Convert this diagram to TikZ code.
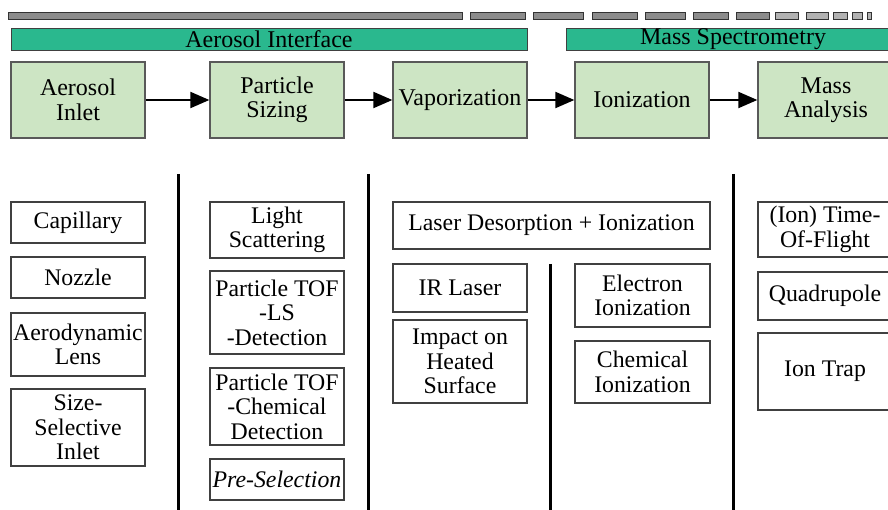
\documentclass[tikz,border=0pt]{standalone}
\usepackage{fontspec}
\setmainfont{Liberation Serif}
\usetikzlibrary{arrows.meta}

\definecolor{bandgreen}{RGB}{42,184,142}
\definecolor{procgreen}{RGB}{205,229,196}
\definecolor{bardark}{RGB}{140,140,140}
\definecolor{barlight}{RGB}{178,178,178}

% box with corners (x1,y1)-(x2,y2)
\newcommand{\blk}[7]{%
  \node[#6, minimum width={#4-#2}, minimum height={#5-#3}] (#1)
    at ({(#2+#4)/2},{(#3+#5)/2}) {#7};}

\tikzset{
  band/.style={fill=bandgreen, draw=black!75, line width=0.9pt, inner sep=0pt,
    font=\fontsize{24}{24}\selectfont},
  proc/.style={fill=procgreen, draw=black!65, line width=1.3pt, inner sep=0pt,
    align=center, font=\fontsize{24}{24.5}\selectfont},
  item/.style={fill=white, draw=black!75, line width=1.3pt, inner sep=0pt,
    align=center, font=\fontsize{23.8}{24.5}\selectfont},
  arr/.style={line width=2pt, -{Triangle[length=19pt,width=16pt]}},
  divider/.style={line width=3pt, black},
  seg/.style={draw=black!80, line width=0.9pt}
}

\begin{document}
\begin{tikzpicture}[x=1pt,y=-1pt]
\useasboundingbox (0,0) rectangle (888,510);

% segmented progress bar along the top
\foreach \a/\b/\c in {8/462/bardark, 470/525/bardark, 533/583/bardark,
    592/637/bardark, 645/685/bardark, 693/728/bardark, 736/769/bardark,
    775/798/barlight, 806/828/barlight, 833/847/barlight, 852/862/barlight,
    867/871/barlight}
  \draw[seg, fill=\c] (\a,12.5) rectangle (\b,19);

% section bands
\blk{aerosolband}{11}{28}{527}{50}{band}{Aerosol Interface}
\blk{massband}{566}{28}{900}{50}{band}{Mass Spectrometry}

% process chain
\blk{inlet}{11}{62}{145}{138}{proc}{Aerosol\\Inlet}
\blk{sizing}{210}{62}{344}{138}{proc}{Particle\\Sizing}
\blk{vapor}{393}{62}{527}{138}{proc}{Vaporization}
\blk{ioniz}{575}{62}{709}{138}{proc}{Ionization}
\blk{massan}{758}{62}{894}{138}{proc}{Mass\\Analysis}

\draw[arr] (inlet) -- (sizing);
\draw[arr] (sizing) -- (vapor);
\draw[arr] (vapor) -- (ioniz);
\draw[arr] (ioniz) -- (massan);

% column dividers
\draw[divider] (178,174) -- (178,510);
\draw[divider] (368,174) -- (368,510);
\draw[divider] (733,174) -- (733,510);
\draw[divider] (550,264) -- (550,510);

% inlet options
\blk{capillary}{11}{202}{145}{243}{item}{Capillary}
\blk{nozzle}{11}{257}{145}{298}{item}{Nozzle}
\blk{lens}{11}{313}{145}{376}{item}{Aerodynamic\\Lens}
\blk{sizesel}{11}{389}{145}{466}{item}{Size-\\Selective\\Inlet}

% sizing options
\blk{lightsc}{210}{202}{344}{258}{item}{Light\\Scattering}
\blk{toflsd}{210}{271}{344}{354}{item}{Particle TOF\\-LS\\-Detection}
\blk{tofchem}{210}{368}{344}{445}{item}{Particle TOF\\-Chemical\\Detection}
\blk{presel}{210}{459}{344}{500}{item}{\itshape Pre-Selection}

% vaporization / ionization options
\blk{ldi}{393}{202}{710}{249}{item}{Laser Desorption + Ionization}
\blk{irlaser}{393}{264}{527}{312}{item}{IR Laser}
\blk{impact}{393}{320}{527}{403}{item}{Impact on\\Heated\\Surface}
\blk{electron}{575}{264}{710}{327}{item}{Electron\\Ionization}
\blk{chemion}{575}{341}{710}{403}{item}{Chemical\\Ionization}

% mass analyzers
\blk{tof}{758}{202}{892}{257}{item}{(Ion) Time-\\Of-Flight}
\blk{quad}{758}{272}{892}{320}{item}{Quadrupole}
\blk{trap}{758}{333}{892}{410}{item}{Ion Trap}
\end{tikzpicture}
\end{document}
